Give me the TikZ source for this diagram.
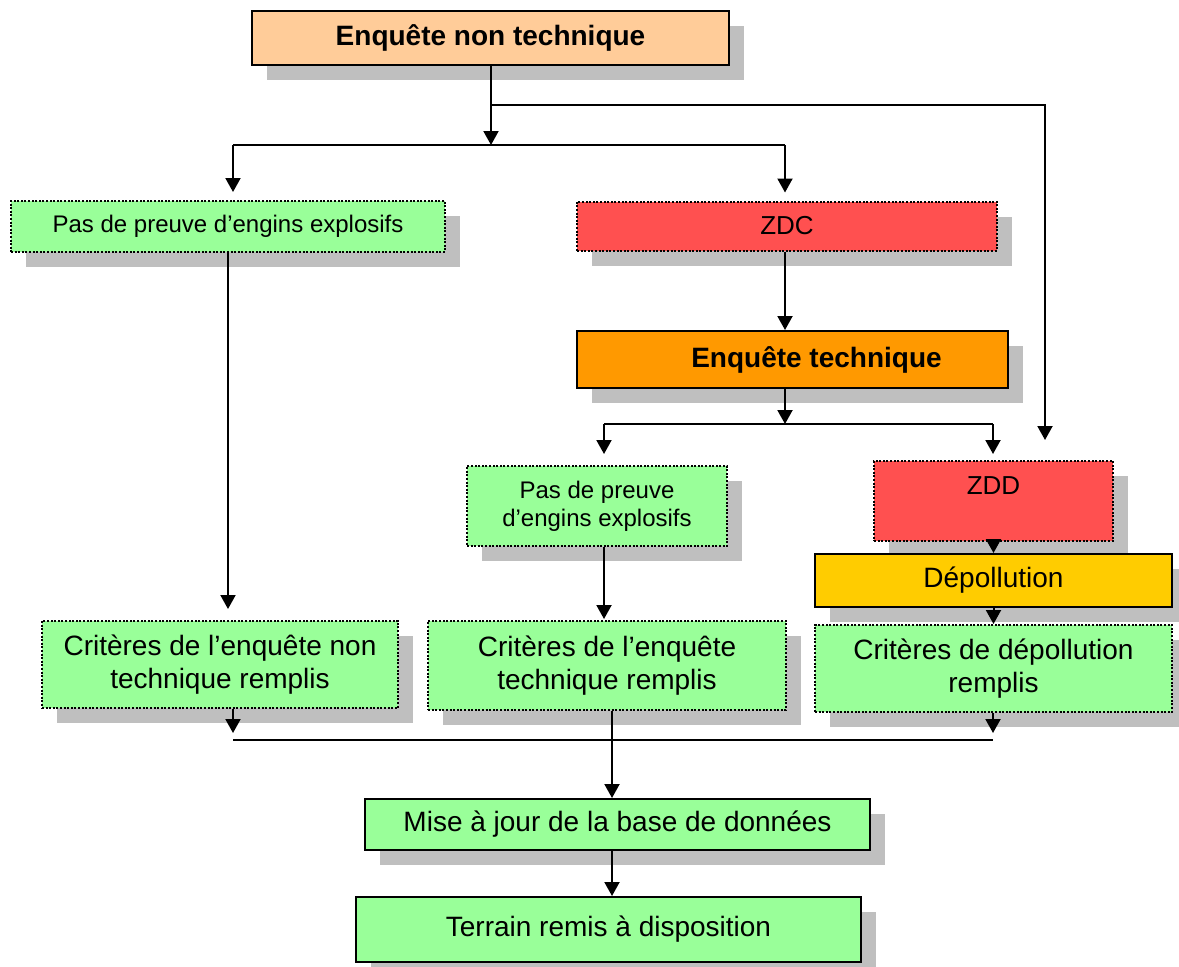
\documentclass[tikz,border=0pt]{standalone}
\usepackage{fontspec}
\setmainfont{Liberation Sans}
\usetikzlibrary{shadows,arrows.meta}
\definecolor{peach}{HTML}{FFCC99}
\definecolor{mint}{HTML}{99FF99}
\definecolor{zonered}{HTML}{FF5050}
\definecolor{techorange}{HTML}{FF9900}
\definecolor{gold}{HTML}{FFCC00}
\definecolor{shade}{HTML}{BFBFBF}

\begin{document}
\begin{tikzpicture}[x=1pt,y=-1pt,
  box/.style={draw=black,line width=2pt,inner sep=0pt,align=center,
    drop shadow={shadow xshift=15pt,shadow yshift=-15pt,fill=shade,opacity=1}},
  dotbox/.style={box,dash pattern=on 2pt off 1.6pt},
  big/.style={font=\fontsize{28}{33}\selectfont},
  bold/.style={font=\fontsize{28}{33}\selectfont\bfseries},
  mid/.style={font=\fontsize{26}{30}\selectfont},
  small/.style={font=\fontsize{24}{28}\selectfont},
  link/.style={line width=2pt},
  arr/.style={link,-{Triangle[width=15pt,length=14pt]}}]
\useasboundingbox (0,0) rectangle (1179,967);
% boxes
\node[box,fill=peach,minimum width=477pt,minimum height=54pt,bold] (nontech) at (490.5,38) {Enquête non technique};
\node[dotbox,fill=mint,minimum width=434pt,minimum height=51pt,small] (nopreuve) at (228,226.5) {Pas de preuve d’engins explosifs};
\node[dotbox,fill=zonered,minimum width=420pt,minimum height=49pt,mid] (zdc) at (787,226) {ZDC};
\node[box,fill=techorange,minimum width=431pt,minimum height=57pt,bold] (tech) at (792.5,359.5) {\hspace*{48pt}Enquête technique};
\node[dotbox,fill=mint,minimum width=260pt,minimum height=80pt,small] (techpreuve) at (597,506) {Pas de preuve\\d’engins explosifs};
\node[dotbox,fill=zonered,minimum width=239pt,minimum height=80pt,mid] (zdd) at (993.5,501) {ZDD\\~};
\node[box,fill=gold,minimum width=357pt,minimum height=53pt,big] (depol) at (993.5,580.5) {Dépollution};
\node[dotbox,fill=mint,minimum width=356pt,minimum height=87pt,big] (critnt) at (220,664.5) {Critères de l’enquête non\\technique remplis};
\node[dotbox,fill=mint,minimum width=358pt,minimum height=89pt,big] (critt) at (607,665.5) {Critères de l’enquête\\technique remplis};
\node[dotbox,fill=mint,minimum width=357pt,minimum height=87pt,big] (critd) at (993.5,668.5) {Critères de dépollution\\remplis};
\node[box,fill=mint,minimum width=505pt,minimum height=51pt,big] (maj) at (617.5,824.5) {Mise à jour de la base de données};
\node[box,fill=mint,minimum width=505pt,minimum height=65pt,big] (terrain) at (608.5,929.5) {Terrain remis à disposition};
% junction points
\coordinate (fork) at (491,105);
\coordinate (split) at (491,145);
\coordinate (zddin) at (1045,440);
\coordinate (l1) at (233,145);
\coordinate (r1) at (785,145);
\coordinate (split2) at (785,424);
\coordinate (l2) at (604,424);
\coordinate (r2) at (993,424);
\coordinate (l3) at (233,740);
\coordinate (r3) at (993,740);
\coordinate (join) at (612,740);
% connectors
\draw[arr] (nontech.south -| split) -- (split);
\draw[arr] (fork) -| (zddin);
\draw[link] (l1) -- (r1);
\draw[arr,shorten >=8pt] (l1) -- (l1 |- nopreuve.north);
\draw[arr,shorten >=8pt] (r1) -- (r1 |- zdc.north);
\draw[arr] (zdc.south -| r1) -- (tech.north -| r1);
\draw[arr] (tech.south -| split2) -- (split2);
\draw[link] (l2) -- (r2);
\draw[arr,shorten >=11pt] (l2) -- (l2 |- techpreuve.north);
\draw[arr,shorten >=6pt] (r2) -- (r2 |- zdd.north);
\draw[arr,shorten >=11pt] (nopreuve) -- (nopreuve |- critnt.north);
\draw[arr,shorten >=1pt] (l2 |- techpreuve.south) -- (l2 |- critt.north);
\draw[arr] (zdd) -- (depol);
\draw[arr] (depol) -- (critd);
\draw[arr,shorten >=7pt] (critnt.south -| l3) -- (l3);
\draw[arr,shorten >=7pt] (critd.south -| r3) -- (r3);
\draw[link] (l3) -- (r3);
\draw[arr] (critt.south -| join) -- (maj.north -| join);
\draw[arr] (maj.south -| join) -- (terrain.north -| join);
\end{tikzpicture}
\end{document}
